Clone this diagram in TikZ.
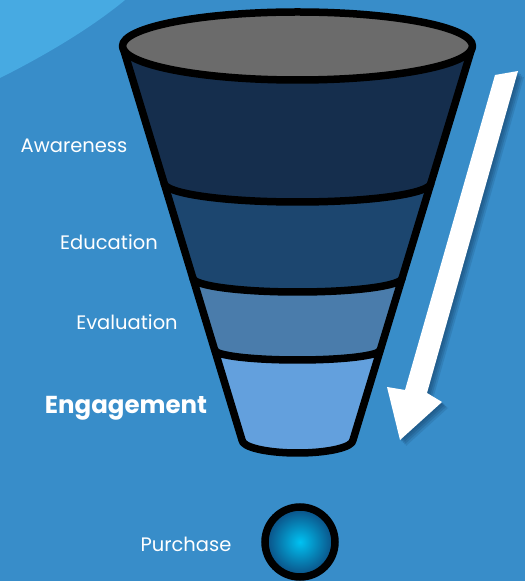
\documentclass[tikz,border=0pt]{standalone}
\usepackage{fontspec}
\setmainfont{Poppins}
\definecolor{bgblue}{HTML}{388DC9}
\definecolor{cornerblue}{HTML}{47AAE2}
\definecolor{bandone}{HTML}{152E4D}
\definecolor{bandtwo}{HTML}{1C466F}
\definecolor{bandthree}{HTML}{4A7CAB}
\definecolor{bandfour}{HTML}{63A0DD}
\definecolor{topgrey}{HTML}{6B6B6B}
\definecolor{dotinner}{HTML}{00C2F2}
\definecolor{dotouter}{HTML}{0C4A80}
\definecolor{shadowblue}{HTML}{1A4C78}
\begin{document}
\begin{tikzpicture}[x=1pt,y=1pt,
    rim/.style={line width=7.5pt,line join=round},
    stage/.style={text=white,font=\fontsize{19.5}{23}\selectfont,anchor=base}]
      \useasboundingbox (0,0) rectangle (525,581);
      \fill[bgblue] (0,0) rectangle (525,581);
      \fill[cornerblue] (0,581) -- (0,503) .. controls (50,528) and (95,556) .. (125,581) -- cycle;

      % funnel body, filled band by band
      \fill[bandone] (122.5,535) -- (242,141) arc[start angle=180,end angle=360,x radius=55.5,y radius=13] -- (472.5,535) -- cycle;
      \foreach \xl/\yy/\hw/\dip/\col in {164.1/398/133.4/19/bandtwo, 192.9/303/104.6/14/bandthree, 214.7/231/82.8/10/bandfour} {
        \fill[\col] (\xl,\yy) arc[start angle=180,end angle=360,x radius=\hw,y radius=\dip] -- (353,141) arc[start angle=0,end angle=-180,x radius=55.5,y radius=13] -- cycle;
      }
      % band borders
      \foreach \xl/\yy/\hw/\dip in {164.1/398/133.4/19, 192.9/303/104.6/14, 214.7/231/82.8/10} {
        \draw[rim] (\xl,\yy) arc[start angle=180,end angle=360,x radius=\hw,y radius=\dip];
      }
      \draw[rim] (122.5,535) -- (242,141) arc[start angle=180,end angle=360,x radius=55.5,y radius=13] -- (472.5,535);
      \draw[rim,fill=topgrey] (297.5,535) ellipse[x radius=175,y radius=34];

      % arrow with its shadow
      \foreach \s/\o in {6/0.2, 4.5/0.25, 3/0.3, 1.5/0.3} {
        \fill[shadowblue,opacity=\o,xshift=\s,yshift=-\s] (495,506) -- (518,510) -- (427,188) -- (442,179) -- (400,141) -- (387,194) -- (405,191) -- cycle;
      }
      \fill[white] (495,506) -- (518,510) -- (427,188) -- (442,179) -- (400,141) -- (387,194) -- (405,191) -- cycle;

      % purchase dot
      \node[circle,draw,line width=7.5pt,minimum size=70pt,inner color=dotinner,outer color=dotouter] (dot) at (300,39) {};

      % stage labels
      \node[stage] (aware) at (74,428) {Awareness};
      \node[stage] (educ) at (109,331) {Education};
      \node[stage] (evalu) at (127,251) {Evaluation};
      \node[stage,font=\bfseries\fontsize{24.5}{29}\selectfont] (engage) at (126,167) {Engagement};
      \node[stage] (purch) at (186,29) {Purchase};
    \end{tikzpicture}
\end{document}
